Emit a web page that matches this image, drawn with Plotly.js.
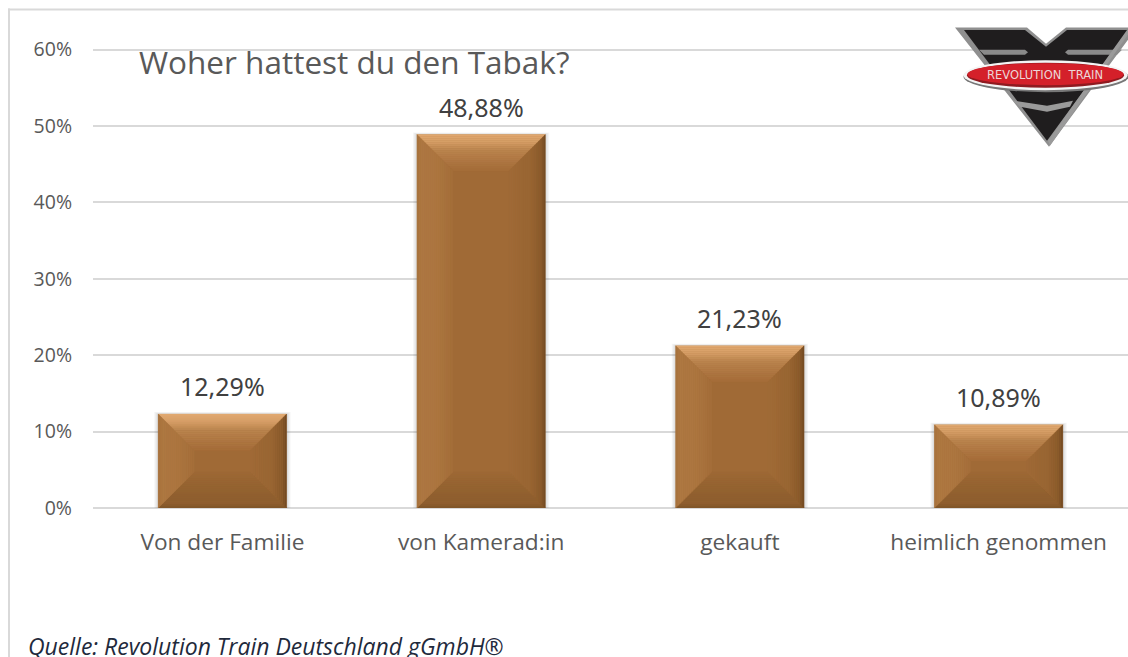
<!DOCTYPE html>
<html>
<head>
<meta charset="utf-8">
<script src="https://cdn.plot.ly/plotly-3.0.1.min.js"></script>
<style>html,body{margin:0;padding:0;background:#fff;overflow:hidden}#chart{width:1128px;height:657px}</style>
</head>
<body>
<div id="chart"></div>
<script>
const categories = ["Von der Familie", "von Kamerad:in", "gekauft", "heimlich genommen"];
const positions = [0, 1, 2, 3];
const values = [12.29, 48.88, 21.23, 10.89];
const yTicks = [0, 10, 20, 30, 40, 50, 60];
const yTickLabels = ["0%", "10%", "20%", "30%", "40%", "50%", "60%"];
const titleText = "Woher hattest du den Tabak?";
const sourceText = "Quelle: Revolution Train Deutschland gGmbH®";
const logoText = "REVOLUTION  TRAIN";

const W = 1128, H = 657;
const pxY = 458 / 60;
const yTop = 61;
const M = {l: 93, r: 0, t: 508 - yTop * pxY, b: 149};
const plotW = W - M.l - M.r, plotH = H - M.t - M.b;
const pxX = plotW / 4;
const halfBar = 0.248;
const shapes = [];

const PX = x => (x - M.l) / plotW;
const PY = y => (H - M.b - y) / plotH;
function poly(pts, fill, line, lw, op) {
  shapes.push({type: 'path', xref: 'paper', yref: 'paper', layer: 'above',
    path: 'M' + pts.map(p => PX(p[0]) + ',' + PY(p[1])).join('L') + 'Z',
    fillcolor: fill, opacity: op === undefined ? 1 : op,
    line: {color: line || fill, width: lw === undefined ? 0 : lw}});
}
function ell(cx, cy, rx, ry, fill) {
  shapes.push({type: 'circle', xref: 'paper', yref: 'paper', layer: 'above',
    x0: PX(cx - rx), x1: PX(cx + rx), y0: PY(cy + ry), y1: PY(cy - ry),
    fillcolor: fill, line: {width: 0}});
}
function rect(x0, y0, x1, y1, color) {
  poly([[x0, y0], [x1, y0], [x1, y1], [x0, y1]], color);
}

rect(8, 9, 10, 657, '#d9d9d9');
rect(8, 9, 1128, 11, '#d9d9d9');

const stops = {
  top:    [[0, 224, 168, 112], [0.2, 214, 158, 102], [0.45, 186, 132, 78], [1, 166, 110, 58]],
  left:   [[0, 168, 115, 62], [0.1, 174, 120, 66], [0.6, 172, 118, 64], [1, 165, 110, 58]],
  right:  [[0, 118, 77, 36], [0.12, 138, 91, 44], [0.4, 152, 101, 50], [1, 160, 106, 55]],
  bottom: [[0, 130, 86, 42], [0.12, 142, 94, 46], [0.6, 149, 99, 49], [1, 157, 104, 53]]
};
function colorAt(side, t) {
  const s = stops[side];
  let i = 0;
  while (i < s.length - 2 && t > s[i + 1][0]) i++;
  const a = s[i], b = s[i + 1], f = (t - a[0]) / (b[0] - a[0]);
  return 'rgb(' + [1, 2, 3].map(k => Math.round(a[k] + (b[k] - a[k]) * f)).join(',') + ')';
}
const bevelPx = 36, N = 18;

values.forEach((v, i) => {
  const x0 = positions[i] - halfBar, x1 = positions[i] + halfBar;
  [4, 3, 2, 1].forEach(s => {
    shapes.push({type: 'rect', xref: 'x', yref: 'y', layer: 'between',
      x0: x0 - s / pxX, x1: x1 + s / pxX, y0: -s / pxY, y1: v + (s * 0.5) / pxY,
      fillcolor: '#555555', opacity: 0.05, line: {width: 0}});
  });
  const maxB = Math.min(bevelPx, v * pxY / 2, (x1 - x0) * pxX / 2);
  for (let k = 0; k < N; k++) {
    const a = maxB * k / N, b = maxB * (k + 1) / N;
    const ax = a / pxX, bx = b / pxX, ay = a / pxY, by = b / pxY;
    const sides = {
      top:    [[x0 + ax, v - ay], [x1 - ax, v - ay], [x1 - bx, v - by], [x0 + bx, v - by]],
      bottom: [[x0 + ax, ay], [x1 - ax, ay], [x1 - bx, by], [x0 + bx, by]],
      left:   [[x0 + ax, ay], [x0 + ax, v - ay], [x0 + bx, v - by], [x0 + bx, by]],
      right:  [[x1 - ax, ay], [x1 - ax, v - ay], [x1 - bx, v - by], [x1 - bx, by]]
    };
    Object.keys(sides).forEach(side => {
      const c = colorAt(side, k / (N - 1));
      shapes.push({type: 'path', xref: 'x', yref: 'y', layer: 'above',
        path: 'M' + sides[side].map(p => p[0] + ',' + p[1]).join('L') + 'Z',
        fillcolor: c, line: {color: c, width: 0.4}});
    });
  }
});

const cx = 1046;
poly([[955, 28], [1027, 28], [1046, 44], [1066, 28], [1137, 28], [1049, 147]], '#8f8f8f');
poly([[964, 30.5], [1025, 30.5], [1046, 47], [1067, 30.5], [1128, 30.5], [1047, 141]], '#1f1d1e');
poly([[979, 50], [1025, 50], [1028, 52.5], [1025, 55], [984, 55]], '#8a8a8a');
poly([[1068, 50], [1122, 50], [1117, 55], [1068, 55], [1065, 52.5]], '#8a8a8a');
poly([[1013, 101], [1047, 106], [1073, 101], [1070, 107], [1047, 112], [1020, 107]], '#9a9a9a');
poly([[1048, 141], [1127, 30.5], [1131, 30.5], [1050, 146]], '#9a9a9a');
ell(cx, 77, 82.5, 15.5, '#777777');
ell(cx - 0.5, 75.5, 82, 15, '#f4f4f4');
ell(cx - 0.5, 75.5, 78.5, 12.5, '#8f1a20');
ell(cx - 0.5, 74.5, 78, 11, '#d4202a');

const annotations = categories.map((c, i) => ({
  x: positions[i], y: values[i], xref: 'x', yref: 'y',
  text: values[i].toFixed(2).replace('.', ',') + '%',
  showarrow: false, yanchor: 'bottom', yshift: 9,
  font: {family: '"Noto Sans", sans-serif', size: 25, color: '#404040'}
}));
annotations.push({
  x: PX(137), y: PY(62), xref: 'paper', yref: 'paper', xanchor: 'left', yanchor: 'middle',
  text: titleText, showarrow: false,
  font: {family: '"Open Sans", sans-serif', size: 31.5, color: '#595959'}
});
annotations.push({
  x: PX(26), y: PY(646), xref: 'paper', yref: 'paper', xanchor: 'left', yanchor: 'middle',
  text: '<i>' + sourceText + '</i>', showarrow: false,
  font: {family: '"Open Sans", sans-serif', size: 23, color: '#1f2a3c'}
});
annotations.push({
  x: PX(1045), y: PY(75), xref: 'paper', yref: 'paper', xanchor: 'center', yanchor: 'middle',
  text: logoText, showarrow: false,
  font: {family: '"DejaVu Sans", sans-serif', size: 11.5, weight: 400, color: '#ecd6d6'}
});

shapes.push({type: 'rect', xref: 'paper', yref: 'paper', layer: 'between',
  x0: PX(131), x1: PX(578), y0: PY(40), y1: PY(80), fillcolor: '#ffffff', line: {width: 0}});

Plotly.newPlot('chart', [{
  type: 'bar',
  x: positions,
  y: values,
  width: 2 * halfBar,
  marker: {color: '#a06a36', line: {width: 0}},
  hoverinfo: 'skip',
  cliponaxis: false
}], {
  width: W, height: H,
  margin: M,
  paper_bgcolor: '#ffffff',
  plot_bgcolor: '#ffffff',
  showlegend: false,
  xaxis: {
    range: [-0.5, 3.5],
    tickmode: 'array', tickvals: positions, ticktext: categories,
    ticks: '', ticklen: 0, ticklabelstandoff: 18,
    tickfont: {family: '"Open Sans", sans-serif', size: 22.7, color: '#595959'},
    showgrid: false, zeroline: false, showline: false,
    automargin: false
  },
  yaxis: {
    range: [0, yTop],
    tickmode: 'array', tickvals: yTicks, ticktext: yTickLabels,
    ticks: '', ticklabelstandoff: 20,
    tickfont: {family: '"Open Sans", sans-serif', size: 19.5, color: '#595959'},
    gridcolor: '#d9d9d9', gridwidth: 2,
    zeroline: true, zerolinecolor: '#d9d9d9', zerolinewidth: 2,
    showline: false,
    automargin: false
  },
  shapes: shapes,
  annotations: annotations
}, {displayModeBar: false, staticPlot: true});
</script>
</body>
</html>
